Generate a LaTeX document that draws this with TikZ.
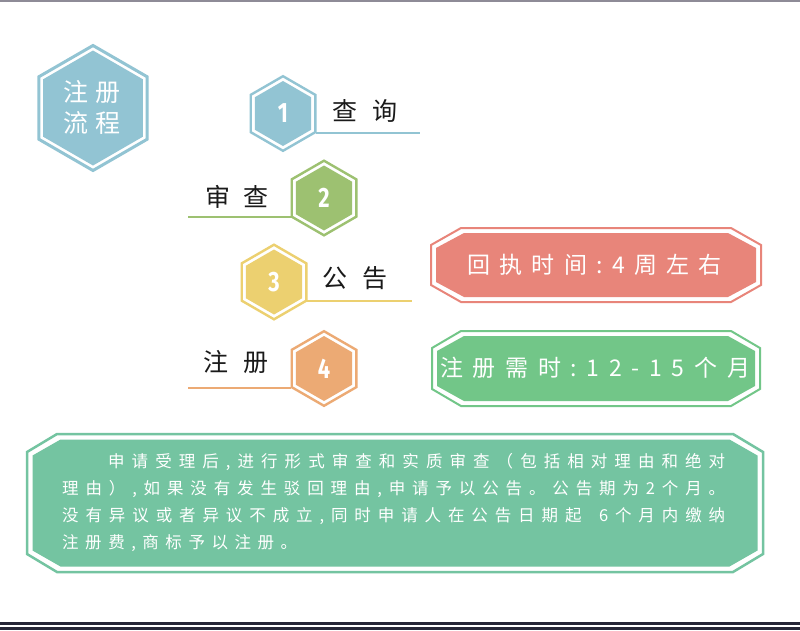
\documentclass[tikz,border=0pt]{standalone}
\usepackage{fontspec}
\setmainfont{Noto Sans CJK SC}
\newfontfamily\numfont[FakeStretch=0.78]{Fira Sans}
\usetikzlibrary{calc}
\definecolor{cgray}{HTML}{8E8B97}
\definecolor{cdark}{HTML}{262636}
\definecolor{cblue}{HTML}{92C4D3}
\definecolor{cgreen}{HTML}{9DC171}
\definecolor{cyellow}{HTML}{ECD070}
\definecolor{corange}{HTML}{ECAA74}
\definecolor{cpink}{HTML}{E8857A}
\definecolor{cgbox}{HTML}{72C688}
\definecolor{cteal}{HTML}{74C4A1}
\definecolor{ctext}{HTML}{1A1A1A}
% spread characters evenly over a given width
\newcommand\sprend{\sprendX}
\def\sprloop#1{\ifx#1\sprend\else #1\expandafter\sprnext\fi}
\def\sprnext#1{\ifx#1\sprend\else\hfil #1\expandafter\sprnext\fi}
\newcommand\spread[2]{\hbox to #1{\sprloop#2\sprend}}
% hexagon: x, y, outline radius, fill radius, colour, outline width
\newcommand\hexshape[6]{%
  \draw[draw=#5, line width=#6, fill=white] (#1,#2) +(90:#3) -- +(150:#3) -- +(210:#3) -- +(270:#3) -- +(330:#3) -- +(30:#3) -- cycle;
  \fill[#5] (#1,#2) +(90:#4) -- +(150:#4) -- +(210:#4) -- +(270:#4) -- +(330:#4) -- +(30:#4) -- cycle;}
% octagon with cut corners: x1 y1 x2 y2 dx dy options
\newcommand\oct[7]{\path[#7] ({#1+#5},#2) -- ({#3-#5},#2) -- (#3,{#2+#6}) -- (#3,{#4-#6}) -- ({#3-#5},#4) -- ({#1+#5},#4) -- (#1,{#4-#6}) -- (#1,{#2+#6}) -- cycle;}
\tikzset{
  lbl/.style={text=ctext, inner sep=0pt, font=\fontsize{25pt}{30pt}\selectfont},
  num/.style={text=white, inner sep=0pt, font=\numfont\bfseries\fontsize{28pt}{30pt}\selectfont},
  title/.style={text=white, inner sep=0pt, font=\fontsize{25pt}{30pt}\selectfont},
  boxtext/.style={text=white, inner sep=0pt, font=\fontsize{23pt}{28pt}\selectfont},
  bodytext/.style={text=white, inner sep=0pt, anchor=west, font=\fontsize{16.5pt}{20pt}\selectfont},
  uline/.style={line width=2pt},
}
\begin{document}
\begin{tikzpicture}[x=1pt,y=-1pt]
\useasboundingbox (0,0) rectangle (800,630);
\fill[white] (0,0) rectangle (800,630);
% frame lines
\fill[cgray] (0,0) rectangle (800,2);
\fill[cdark] (0,622) rectangle (800,625.3);
\fill[cdark] (0,627) rectangle (800,630);

% title hexagon
\hexshape{93}{108}{62.5}{57.5}{cblue}{3pt}
\node[title] (t1) at (91.5,92) {\spread{57pt}{注册}};
\node[title] (t2) at (91.5,123) {\spread{57pt}{流程}};

% step hexagons
\coordinate (h1) at (283,113.5);
\coordinate (h2) at (324,198);
\coordinate (h3) at (274,282);
\coordinate (h4) at (324,368.5);
\hexshape{283}{113.5}{37.3}{32.5}{cblue}{2.4pt}
\hexshape{324}{198}{37.3}{32.5}{cgreen}{2.4pt}
\hexshape{274}{282}{37.3}{32.5}{cyellow}{2.4pt}
\hexshape{324}{368.5}{37.3}{32.5}{corange}{2.4pt}
\node[num] (n1) at (h1) {1};
\node[num] (n2) at (h2) {2};
\node[num] (n3) at (h3) {3};
\node[num] (n4) at (h4) {4};

% underlines
\coordinate (e1) at (420,132.75);
\coordinate (e2) at (188,217.25);
\coordinate (e3) at (412,301.25);
\coordinate (e4) at (188,387.75);
\draw[uline, cblue] ($(h1)+(33.3,19.25)$) -- (e1);
\draw[uline, cgreen] ($(h2)+(-33.3,19.25)$) -- (e2);
\draw[uline, cyellow] ($(h3)+(33.3,19.25)$) -- (e3);
\draw[uline, corange] ($(h4)+(-33.3,19.25)$) -- (e4);

% labels
\node[lbl] (l1) at (364.5,111) {\spread{65pt}{查询}};
\node[lbl] (l2) at (236.5,197) {\spread{63pt}{审查}};
\node[lbl] (l3) at (354.5,278) {\spread{65pt}{公告}};
\node[lbl] (l4) at (235.5,362) {\spread{65pt}{注册}};

% pink box
\oct{431}{228}{761}{302}{30}{17}{draw=cpink, line width=2pt, fill=white}
\oct{436}{233}{756}{297}{28}{15}{fill=cpink}
\node[boxtext] (b1) at (594.5,265) {\spread{255pt}{回执时间:4周左右}};

% green box
\oct{432}{331}{760}{406}{29}{17}{draw=cgbox, line width=2pt, fill=white}
\oct{437}{336}{755}{401}{27}{15}{fill=cgbox}
\node[boxtext] (b2) at (595,368) {\spread{310pt}{注册需时:12-15个月}};

% bottom text box
\oct{27}{434}{763}{572}{30}{18}{draw=cteal, line width=2.5pt, fill=white}
\oct{32.5}{439.5}{757.5}{566.5}{28}{16}{fill=cteal}
\node[bodytext] (p1) at (108,462) {\spread{617pt}{申请受理后,进行形式审查和实质审查（包括相对理由和绝对}};
\node[bodytext] (p2) at (62,489) {\spread{663pt}{理由）,如果没有发生驳回理由,申请予以公告。公告期为2个月。}};
\node[bodytext] (p3) at (62,516) {\spread{663pt}{没有异议或者异议不成立,同时申请人在公告日期起~6个月内缴纳}};
\node[bodytext] (p4) at (62,543) {\spread{235pt}{注册费,商标予以注册。}};
\end{tikzpicture}
\end{document}
